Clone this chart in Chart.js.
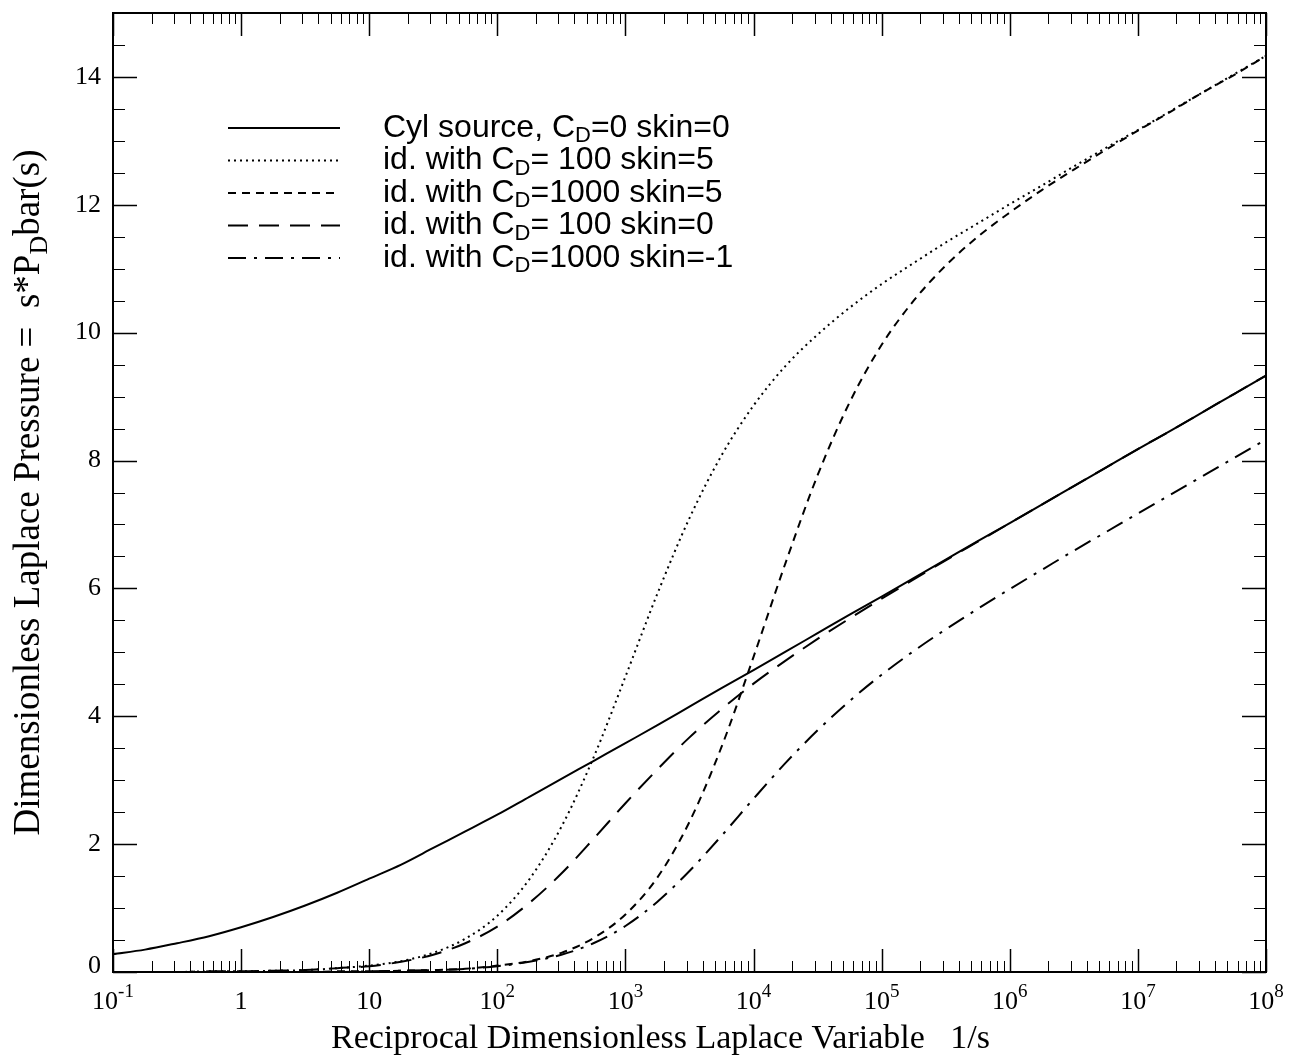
<!DOCTYPE html>
<html>
<head>
<meta charset="utf-8">
<script src="https://cdn.jsdelivr.net/npm/chart.js@4/dist/chart.umd.min.js"></script>
<style>
  html, body { margin: 0; padding: 0; background: #fff; }
  canvas { display: block; }
</style>
</head>
<body>
<canvas id="myChart" width="1290" height="1057"></canvas>
<script>
// reciprocal Laplace variable 1/s, quarter decades from 1e-1 to 1e8
const xValues = [0.1, 0.1778, 0.3162, 0.5623, 1, 1.778, 3.162, 5.623,
  10, 17.78, 31.62, 56.23, 100, 177.8, 316.2, 562.3,
  1e3, 1.778e3, 3.162e3, 5.623e3, 1e4, 1.778e4, 3.162e4, 5.623e4,
  1e5, 1.778e5, 3.162e5, 5.623e5, 1e6, 1.778e6, 3.162e6, 5.623e6,
  1e7, 1.778e7, 3.162e7, 5.623e7, 1e8];

// s*PDbar(s)
const cylSource = [0.28, 0.35, 0.45, 0.56, 0.70, 0.86, 1.04, 1.24,
  1.46, 1.68, 1.94, 2.20, 2.46, 2.74, 3.02, 3.30,
  3.58, 3.86, 4.15, 4.44, 4.72, 5.01, 5.30, 5.59,
  5.87, 6.16, 6.45, 6.74, 7.02, 7.31, 7.60, 7.89,
  8.18, 8.46, 8.75, 9.04, 9.33];
const cd100s5 = [0.00, 0.00, 0.00, 0.01, 0.01, 0.02, 0.03, 0.06,
  0.10, 0.17, 0.30, 0.52, 0.88, 1.45, 2.27, 3.35,
  4.62, 5.92, 7.10, 8.08, 8.86, 9.48, 9.97, 10.39,
  10.76, 11.09, 11.41, 11.71, 12.01, 12.30, 12.60, 12.89,
  13.17, 13.46, 13.75, 14.04, 14.33];
const cd1000s5 = [0.00, 0.00, 0.00, 0.00, 0.00, 0.00, 0.00, 0.01,
  0.01, 0.02, 0.03, 0.05, 0.10, 0.17, 0.30, 0.53,
  0.90, 1.48, 2.35, 3.52, 4.93, 6.40, 7.77, 8.91,
  9.81, 10.50, 11.05, 11.50, 11.88, 12.23, 12.55, 12.86,
  13.16, 13.45, 13.75, 14.03, 14.33];
const cd100s0 = [0.00, 0.00, 0.00, 0.01, 0.01, 0.02, 0.03, 0.06,
  0.09, 0.16, 0.27, 0.45, 0.71, 1.08, 1.54, 2.08,
  2.64, 3.17, 3.67, 4.11, 4.51, 4.87, 5.21, 5.53,
  5.84, 6.14, 6.44, 6.73, 7.02, 7.31, 7.60, 7.89,
  8.18, 8.46, 8.75, 9.04, 9.33];
const cd1000sm1 = [0.00, 0.00, 0.00, 0.00, 0.00, 0.00, 0.00, 0.00,
  0.01, 0.02, 0.03, 0.05, 0.09, 0.16, 0.27, 0.45,
  0.72, 1.10, 1.58, 2.13, 2.71, 3.27, 3.78, 4.24,
  4.65, 5.02, 5.36, 5.68, 5.99, 6.29, 6.59, 6.88,
  7.17, 7.46, 7.75, 8.04, 8.33];

// tick labels
const xTickExps = [-1, 0, 1, 2, 3, 4, 5, 6, 7, 8];
const yTickValues = [0, 2, 4, 6, 8, 10, 12, 14];

// legend text: [before subscript, subscript, after]
const legendTexts = [
  ['Cyl source, C', 'D', '=0 skin=0'],
  ['id. with C', 'D', '= 100 skin=5'],
  ['id. with C', 'D', '=1000 skin=5'],
  ['id. with C', 'D', '= 100 skin=0'],
  ['id. with C', 'D', '=1000 skin=-1']
];

const SERIF = "'Liberation Serif', 'Times New Roman', serif";
const SANS = "'Liberation Sans', Arial, sans-serif";

function pts(ys) {
  return xValues.map((x, i) => ({ x: x, y: ys[i] }));
}

function drawRich(ctx, parts, x, y, align) {
  let w = 0;
  parts.forEach(p => {
    ctx.font = p.size + 'px ' + p.font;
    w += ctx.measureText(p.text).width;
  });
  let cx = x;
  if (align === 'center') cx = x - w / 2;
  if (align === 'right') cx = x - w;
  parts.forEach(p => {
    ctx.font = p.size + 'px ' + p.font;
    ctx.fillText(p.text, cx, y + (p.dy || 0));
    cx += ctx.measureText(p.text).width;
  });
}

const frame = {
  id: 'frame',
  afterDraw(chart) {
    const ctx = chart.ctx;
    const a = chart.chartArea;
    const xs = chart.scales.x;
    const ys = chart.scales.y;
    ctx.save();
    ctx.strokeStyle = '#000';
    ctx.fillStyle = '#000';

    // box
    ctx.lineWidth = 2;
    ctx.strokeRect(a.left, a.top, a.right - a.left, a.bottom - a.top);

    // x ticks, inward on bottom and top
    for (let e = -1; e <= 8; e++) {
      for (let m = 1; m <= 9; m++) {
        const v = m * Math.pow(10, e);
        if (e === 8 && m > 1) break;
        const px = Math.round(xs.getPixelForValue(v)) + 0.5;
        const len = m === 1 ? 23 : 11;
        ctx.lineWidth = m === 1 ? 1.5 : 1;
        ctx.beginPath();
        ctx.moveTo(px, a.bottom); ctx.lineTo(px, a.bottom - len);
        ctx.moveTo(px, a.top); ctx.lineTo(px, a.top + len);
        ctx.stroke();
      }
    }
    // y ticks, inward on left and right
    for (let v = 0; v <= 15; v += 0.5) {
      const py = Math.round(ys.getPixelForValue(v)) + 0.5;
      const len = v % 2 === 0 ? 24 : 12;
      ctx.lineWidth = v % 2 === 0 ? 1.5 : 1;
      ctx.beginPath();
      ctx.moveTo(a.left, py); ctx.lineTo(a.left + len, py);
      ctx.moveTo(a.right, py); ctx.lineTo(a.right - len, py);
      ctx.stroke();
    }

    // x tick labels
    ctx.textBaseline = 'alphabetic';
    xTickExps.forEach(e => {
      const px = xs.getPixelForValue(Math.pow(10, e));
      let parts;
      if (e === 0) parts = [{ text: '1', size: 26, font: SERIF }];
      else if (e === 1) parts = [{ text: '10', size: 26, font: SERIF }];
      else parts = [{ text: '10', size: 26, font: SERIF }, { text: String(e), size: 19, font: SERIF, dy: -12 }];
      drawRich(ctx, parts, px, a.bottom + 37, 'center');
    });

    // y tick labels
    ctx.textBaseline = 'middle';
    yTickValues.forEach(v => {
      const py = ys.getPixelForValue(v) - (v === 0 ? 6 : 0);
      drawRich(ctx, [{ text: String(v), size: 26, font: SERIF }], a.left - 12, py, 'right');
    });

    // axis titles
    ctx.textBaseline = 'alphabetic';
    drawRich(ctx, [{ text: 'Reciprocal Dimensionless Laplace Variable   1/s', size: 34, font: SERIF }],
      (a.left + a.right) / 2 - 29, a.bottom + 76, 'center');

    ctx.save();
    ctx.translate(39, (a.top + a.bottom) / 2);
    ctx.rotate(-Math.PI / 2);
    drawRich(ctx, [
      { text: 'Dimensionless Laplace Pressure =  s*P', size: 37, font: SERIF },
      { text: 'D', size: 26, font: SERIF, dy: 8 },
      { text: 'bar(s)', size: 37, font: SERIF }
    ], 0, 0, 'center');
    ctx.restore();

    // legend
    ctx.textBaseline = 'middle';
    chart.data.datasets.forEach((ds, i) => {
      const ly = a.top + 115 + i * 32.5;
      ctx.save();
      ctx.lineWidth = 2;
      ctx.setLineDash(ds.borderDash || []);
      ctx.beginPath();
      ctx.moveTo(a.left + 115, ly);
      ctx.lineTo(a.left + 227, ly);
      ctx.stroke();
      ctx.restore();
      const t = legendTexts[i];
      drawRich(ctx, [
        { text: t[0], size: 32, font: SANS },
        { text: t[1], size: 22, font: SANS, dy: 8 },
        { text: t[2], size: 32, font: SANS }
      ], a.left + 270, ly, 'left');
    });
    ctx.restore();
  }
};

const ctx = document.getElementById('myChart').getContext('2d');
const myChart = new Chart(ctx, {
  type: 'line',
  data: {
    datasets: [
      { label: 'Cyl source', data: pts(cylSource), borderDash: [] },
      { label: 'CD=100 skin=5', data: pts(cd100s5), borderDash: [2, 4] },
      { label: 'CD=1000 skin=5', data: pts(cd1000s5), borderDash: [8, 6] },
      { label: 'CD=100 skin=0', data: pts(cd100s0), borderDash: [20, 11] },
      { label: 'CD=1000 skin=-1', data: pts(cd1000sm1), borderDash: [18, 8, 3, 8] }
    ].map(ds => Object.assign(ds, {
      borderColor: '#000',
      borderWidth: 2,
      pointRadius: 0,
      fill: false,
      cubicInterpolationMode: 'monotone'
    }))
  },
  options: {
    responsive: false,
    animation: false,
    layout: { padding: { left: 113, right: 24, top: 13, bottom: 85 } },
    plugins: { legend: { display: false }, tooltip: { enabled: false } },
    scales: {
      x: { type: 'logarithmic', min: 0.1, max: 1e8, display: false },
      y: { type: 'linear', min: 0, max: 15, display: false }
    }
  },
  plugins: [frame]
});
</script>
</body>
</html>
